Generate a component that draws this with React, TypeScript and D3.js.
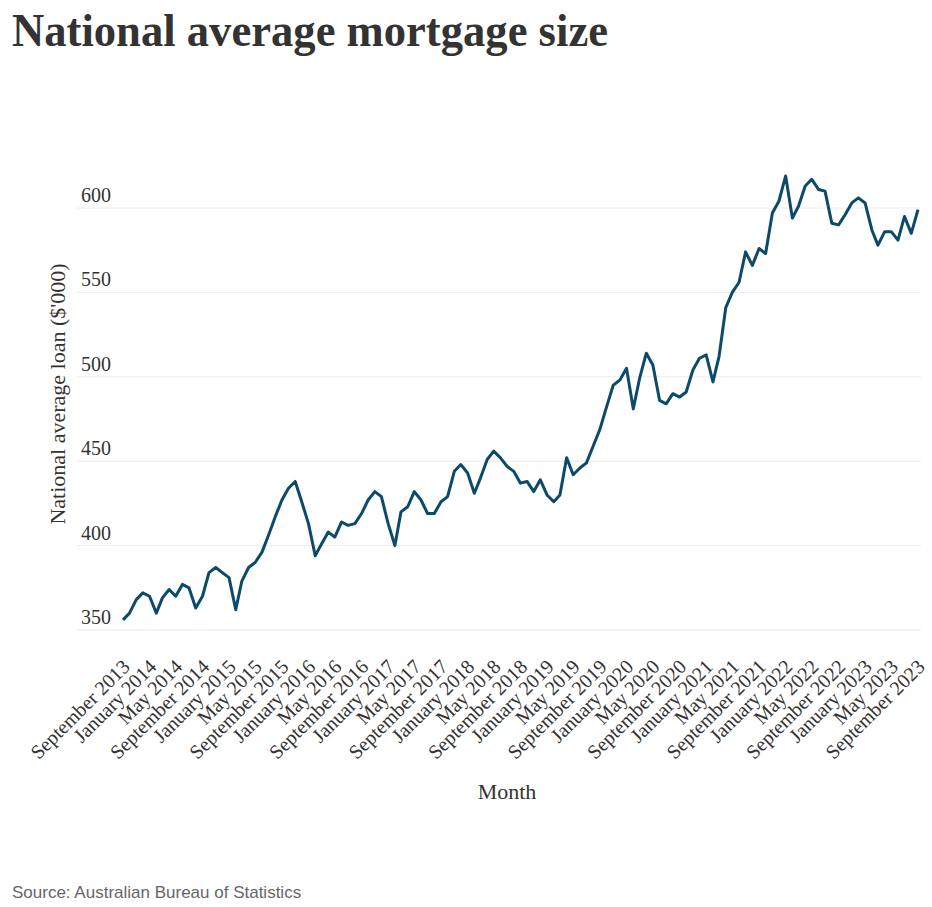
import React, { useRef, useEffect } from 'react';
import * as d3 from 'd3';

// monthly values, September 2013 .. September 2023 ($'000)
const startMonth = new Date(2013, 8, 1);
const loanValues = [
  356, 360, 368, 372, 370, 360, 369, 374, 370, 377, 375, 363, 370, 384, 387, 384,
  381, 362, 379, 387, 390, 396, 406, 417, 427, 434, 438, 426, 413, 394, 401, 408,
  405, 414, 412, 413, 419, 427, 432, 429, 413, 400, 420, 423, 432, 427, 419, 419,
  426, 429, 444, 448, 443, 431, 440, 451, 456, 452, 447, 444, 437, 438, 432, 439,
  430, 426, 430, 452, 442, 446, 449, 459, 469, 482, 495, 498, 505, 481, 499, 514,
  507, 486, 484, 490, 488, 491, 504, 511, 513, 497, 512, 541, 550, 556, 574, 566,
  576, 573, 597, 604, 619, 594, 601, 613, 617, 611, 610, 591, 590, 596, 603, 606,
  603, 587, 578, 586, 586, 581, 595, 585, 599
];

const tickLabels = [
  'September 2013', 'January 2014', 'May 2014', 'September 2014', 'January 2015',
  'May 2015', 'September 2015', 'January 2016', 'May 2016', 'September 2016',
  'January 2017', 'May 2017', 'September 2017', 'January 2018', 'May 2018',
  'September 2018', 'January 2019', 'May 2019', 'September 2019', 'January 2020',
  'May 2020', 'September 2020', 'January 2021', 'May 2021', 'September 2021',
  'January 2022', 'May 2022', 'September 2022', 'January 2023', 'May 2023',
  'September 2023'
];

const yTicks = [350, 400, 450, 500, 550, 600];

const serif = '"Liberation Serif", "Times New Roman", serif';

const MortgageChart: React.FC = () => {
  const svgRef = useRef<SVGSVGElement>(null);

  useEffect(() => {
    if (!svgRef.current) return;
    const svg = d3.select(svgRef.current);
    svg.selectAll('*').remove();

    const data = loanValues.map((v, i) => ({
      date: d3.timeMonth.offset(startMonth, i),
      value: v
    }));
    const lastDate = data[data.length - 1].date;

    const x = d3.scaleTime().domain([startMonth, lastDate]).range([123, 918]);
    const y = d3.scaleLinear().domain([350, 600]).range([630, 208]);

    // title
    svg
      .append('text')
      .attr('x', 12)
      .attr('y', 46)
      .attr('font-family', serif)
      .attr('font-weight', 'bold')
      .attr('font-size', 47)
      .attr('fill', '#333')
      .attr('textLength', 596)
      .attr('lengthAdjust', 'spacingAndGlyphs')
      .text('National average mortgage size');

    // grid + y labels
    const grid = svg.append('g');
    grid
      .selectAll('line')
      .data(yTicks)
      .enter()
      .append('line')
      .attr('x1', 77)
      .attr('x2', 921)
      .attr('y1', (d) => y(d))
      .attr('y2', (d) => y(d))
      .attr('stroke', '#ececec')
      .attr('stroke-width', 1);
    grid
      .selectAll('text')
      .data(yTicks)
      .enter()
      .append('text')
      .attr('x', 111)
      .attr('y', (d) => y(d) - 6)
      .attr('text-anchor', 'end')
      .attr('font-family', serif)
      .attr('font-size', 20)
      .attr('fill', '#333')
      .text((d) => d);

    // x labels every 4 months
    const tickDates = tickLabels.map((_, i) => d3.timeMonth.offset(startMonth, i * 4));
    svg
      .append('g')
      .selectAll('text')
      .data(tickDates)
      .enter()
      .append('text')
      .attr('transform', (d) => 'translate(' + (x(d) + 8) + ',668)rotate(-45)')
      .attr('text-anchor', 'end')
      .attr('font-family', serif)
      .attr('font-size', 20)
      .attr('fill', '#333')
      .text((_, i) => tickLabels[i]);

    // line
    const line = d3
      .line<{ date: Date; value: number }>()
      .x((d) => x(d.date))
      .y((d) => y(d.value));
    svg
      .append('path')
      .datum(data)
      .attr('d', line)
      .attr('fill', 'none')
      .attr('stroke', '#0c4a6a')
      .attr('stroke-width', 3)
      .attr('stroke-linejoin', 'round');

    // axis titles
    svg
      .append('text')
      .attr('transform', 'translate(65,394)rotate(-90)')
      .attr('text-anchor', 'middle')
      .attr('font-family', serif)
      .attr('font-size', 22)
      .attr('fill', '#333')
      .text("National average loan ($'000)");

    svg
      .append('text')
      .attr('x', 507)
      .attr('y', 799)
      .attr('text-anchor', 'middle')
      .attr('font-family', serif)
      .attr('font-size', 22)
      .attr('fill', '#333')
      .text('Month');

    // source
    svg
      .append('text')
      .attr('x', 12)
      .attr('y', 898)
      .attr('font-family', '"Liberation Sans", Arial, sans-serif')
      .attr('font-size', 17)
      .attr('fill', '#666')
      .text('Source: Australian Bureau of Statistics');
  }, []);

  return (
    <svg
      ref={svgRef}
      width={932}
      height={907}
      style={{ position: 'absolute', left: 0, top: 0, background: '#fff' }}
    />
  );
};

export default function App() {
  return <MortgageChart />;
}
